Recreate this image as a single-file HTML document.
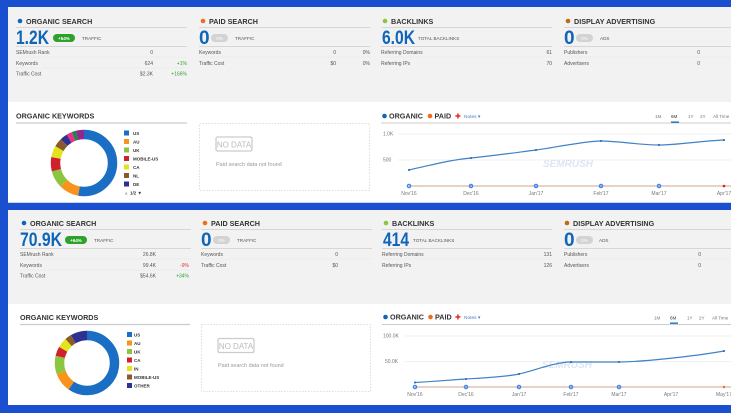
<!DOCTYPE html>
<html><head><meta charset="utf-8"><style>
html,body{margin:0;padding:0;background:#fff}
svg{display:block}
text{font-family:"Liberation Sans",sans-serif}
.h{font-size:7.2px;font-weight:bold;fill:#333}
.s{font-size:5px;fill:#555}
.t{font-size:4.6px;fill:#555}
.big{font-size:19px;font-weight:bold;fill:#0f65b8}
.g{fill:#36a02e;font-size:5px}
.r{fill:#d33;font-size:5px}
.ln{stroke:#d6d6d6;stroke-width:1}
.lt{stroke:#e6e6e6;stroke-width:.6}
.ax{font-size:5px;fill:#777}
</style></head><body>
<svg width="731" height="413" viewBox="0 0 731 413" xmlns="http://www.w3.org/2000/svg">
<rect width="731" height="413" fill="#1a4fd0"/>
<rect x="8" y="7" width="723" height="95" fill="#f2f2f2"/>
<rect x="8" y="102" width="723" height="100" fill="#fff"/>
<rect x="8" y="202" width="723" height="1" fill="#c9d4ee"/>
<rect x="8" y="210" width="723" height="94" fill="#f2f2f2"/>
<rect x="8" y="304" width="723" height="101" fill="#fff"/>

<!-- ===== PANEL 1 TOP ROW ===== -->
<g>
<circle cx="20" cy="21" r="2.3" fill="#0f65b8"/><text x="26" y="24" class="h">ORGANIC SEARCH</text>
<line x1="16" y1="27.5" x2="187" y2="27.5" class="ln"/>
<text x="16" y="44" class="big" textLength="33" lengthAdjust="spacingAndGlyphs">1.2K</text>
<rect x="53" y="34" width="22" height="8" rx="4" fill="#2ea12a"/><text x="64" y="39.8" font-size="4.5" fill="#fff" text-anchor="middle" font-weight="bold">+54%</text>
<text x="82" y="40" class="t">TRAFFIC</text>
<line x1="16" y1="46.5" x2="187" y2="46.5" class="ln"/>
<text x="16" y="54" class="s">SEMrush Rank</text><text x="153" y="54" class="s" text-anchor="end">0</text>
<line x1="16" y1="57" x2="187" y2="57" class="lt"/>
<text x="16" y="65" class="s">Keywords</text><text x="153" y="65" class="s" text-anchor="end">624</text><text x="187" y="65" class="g" text-anchor="end">+1%</text>
<line x1="16" y1="68" x2="187" y2="68" class="lt"/>
<text x="16" y="75.5" class="s">Traffic Cost</text><text x="153" y="75.5" class="s" text-anchor="end">$2.3K</text><text x="187" y="75.5" class="g" text-anchor="end">+166%</text>

<circle cx="203" cy="21" r="2.3" fill="#f26b1d"/><text x="209" y="24" class="h">PAID SEARCH</text>
<line x1="199" y1="27.5" x2="370" y2="27.5" class="ln"/>
<text x="199" y="44" class="big">0</text>
<rect x="211" y="34" width="17" height="8" rx="4" fill="#d3d3d3"/><text x="219.5" y="39.8" font-size="4.5" fill="#fff" text-anchor="middle">0%</text>
<text x="235" y="40" class="t">TRAFFIC</text>
<line x1="199" y1="46.5" x2="370" y2="46.5" class="ln"/>
<text x="199" y="54" class="s">Keywords</text><text x="336" y="54" class="s" text-anchor="end">0</text><text x="370" y="54" class="s" fill="#bbb" text-anchor="end">0%</text>
<line x1="199" y1="57" x2="370" y2="57" class="lt"/>
<text x="199" y="65" class="s">Traffic Cost</text><text x="336" y="65" class="s" text-anchor="end">$0</text><text x="370" y="65" class="s" text-anchor="end">0%</text>

<circle cx="385" cy="21" r="2.3" fill="#8cc63f"/><text x="391" y="24" class="h">BACKLINKS</text>
<line x1="381" y1="27.5" x2="552" y2="27.5" class="ln"/>
<text x="382" y="44" class="big" textLength="33" lengthAdjust="spacingAndGlyphs">6.0K</text><text x="418" y="40" class="t">TOTAL BACKLINKS</text>
<line x1="381" y1="46.5" x2="552" y2="46.5" class="ln"/>
<text x="381" y="54" class="s">Referring Domains</text><text x="552" y="54" class="s" text-anchor="end">61</text>
<line x1="381" y1="57" x2="552" y2="57" class="lt"/>
<text x="381" y="65" class="s">Referring IPs</text><text x="552" y="65" class="s" text-anchor="end">70</text>

<circle cx="568" cy="21" r="2.3" fill="#c06a12"/><text x="574" y="24" class="h">DISPLAY ADVERTISING</text>
<line x1="564" y1="27.5" x2="731" y2="27.5" class="ln"/>
<text x="564" y="44" class="big">0</text>
<rect x="576" y="34" width="17" height="8" rx="4" fill="#d3d3d3"/><text x="584.5" y="39.8" font-size="4.5" fill="#fff" text-anchor="middle">0%</text>
<text x="600" y="40" class="t">ADS</text>
<line x1="564" y1="46.5" x2="731" y2="46.5" class="ln"/>
<text x="564" y="54" class="s">Publishers</text><text x="700" y="54" class="s" fill="#bbb" text-anchor="end">0</text>
<line x1="564" y1="57" x2="731" y2="57" class="lt"/>
<text x="564" y="65" class="s">Advertisers</text><text x="700" y="65" class="s" fill="#bbb" text-anchor="end">0</text>
</g>

<!-- PANEL 1 BOTTOM ROW -->
<text x="16" y="118.5" class="h">ORGANIC KEYWORDS</text>
<line x1="16" y1="123" x2="187" y2="123" stroke="#ccc" stroke-width="1.2"/>
<g transform="rotate(-90 84 163)" fill="none" stroke-width="9.5">
<circle cx="84" cy="163" r="28.5" stroke="#1a6fc4" stroke-dasharray="94.5 200" stroke-dashoffset="0"/>
<circle cx="84" cy="163" r="28.5" stroke="#f7941d" stroke-dasharray="17.4 200" stroke-dashoffset="-94.5"/>
<circle cx="84" cy="163" r="28.5" stroke="#8cc63f" stroke-dasharray="14.9 200" stroke-dashoffset="-111.9"/>
<circle cx="84" cy="163" r="28.5" stroke="#d0202e" stroke-dasharray="12.4 200" stroke-dashoffset="-126.8"/>
<circle cx="84" cy="163" r="28.5" stroke="#e3e31b" stroke-dasharray="9.95 200" stroke-dashoffset="-139.3"/>
<circle cx="84" cy="163" r="28.5" stroke="#8b5a2b" stroke-dasharray="7.46 200" stroke-dashoffset="-149.2"/>
<circle cx="84" cy="163" r="28.5" stroke="#2e3192" stroke-dasharray="6.47 200" stroke-dashoffset="-156.7"/>
<circle cx="84" cy="163" r="28.5" stroke="#ec2d8c" stroke-dasharray="4.97 200" stroke-dashoffset="-163.1"/>
<circle cx="84" cy="163" r="28.5" stroke="#178a3e" stroke-dasharray="3.48 200" stroke-dashoffset="-168.1"/>
<circle cx="84" cy="163" r="28.5" stroke="#92278f" stroke-dasharray="7.46 200" stroke-dashoffset="-171.6"/>
</g>
<g font-size="4.5" font-weight="bold" fill="#333">
<rect x="124" y="130.5" width="5" height="5" fill="#1a6fc4"/><text x="133" y="135">US</text>
<rect x="124" y="139" width="5" height="5" fill="#f7941d"/><text x="133" y="143.5">AU</text>
<rect x="124" y="147.5" width="5" height="5" fill="#8cc63f"/><text x="133" y="152">UK</text>
<rect x="124" y="156" width="5" height="5" fill="#d0202e"/><text x="133" y="160.5">MOBILE-US</text>
<rect x="124" y="164.5" width="5" height="5" fill="#e3e31b"/><text x="133" y="169">CA</text>
<rect x="124" y="173" width="5" height="5" fill="#8b5a2b"/><text x="133" y="177.5">NL</text>
<rect x="124" y="181.5" width="5" height="5" fill="#2e3192"/><text x="133" y="186">DE</text>
<text x="124" y="194.5" fill="#aaa">▲</text><text x="130" y="194.5">1/2 ▼</text>
</g>
<rect x="199.5" y="123.5" width="170" height="67" fill="none" stroke="#ddd" stroke-dasharray="1.5 1.5"/>
<rect x="216" y="137" width="36" height="14" rx="1.5" fill="none" stroke="#ccc" stroke-width="1.3"/>
<text x="234" y="147.5" font-size="8" fill="#bbb" text-anchor="middle">NO DATA</text>
<text x="216" y="166" font-size="5.5" fill="#999">Paid search data not found</text>

<!-- chart 1 -->
<circle cx="384.5" cy="116" r="2.3" fill="#0f65b8"/><text x="389" y="118.5" class="h">ORGANIC</text>
<circle cx="430" cy="116" r="2.3" fill="#f26b1d"/><text x="434.5" y="118.5" class="h">PAID</text>
<text x="455" y="118.5" font-size="7" fill="#e02020">✚</text><text x="464" y="118" font-size="4.8" fill="#4a7cc2">Notes ▾</text>
<line x1="381" y1="123" x2="731" y2="123" stroke="#ccc" stroke-width="1"/>
<g font-size="4.6" fill="#777"><text x="655" y="118">1M</text><text x="671" y="118" fill="#333">6M</text><text x="688" y="118">1Y</text><text x="700" y="118">2Y</text><text x="713" y="118">All Time</text></g>
<rect x="671" y="121.5" width="8" height="1.3" fill="#0f65b8"/>
<line x1="398" y1="134" x2="731" y2="134" class="lt"/><line x1="398" y1="160" x2="731" y2="160" class="lt"/>
<text x="383" y="135.5" class="ax">1.0K</text><text x="383" y="161.5" class="ax">500</text>
<text x="568" y="167" font-size="10" font-style="italic" font-weight="bold" fill="#dde6f3" text-anchor="middle">SEMRUSH</text>
<line x1="409" y1="186" x2="731" y2="186" stroke="#d7b9a0" stroke-width="1.2"/>
<path d="M409,170 C440,163 450,160 471,158 S520,152 536,150 S585,141 601,141 S640,145 659,145 S700,141 724,140" fill="none" stroke="#3f82c7" stroke-width="1.2"/>
<g fill="#1e5fa8"><circle cx="409" cy="170" r="1"/><circle cx="471" cy="158" r="1"/><circle cx="536" cy="150" r="1"/><circle cx="601" cy="141" r="1"/><circle cx="659" cy="145" r="1"/><circle cx="724" cy="140" r="1"/></g>
<g fill="none" stroke-width="1.4"><circle cx="409" cy="186" r="1.6" stroke="#4285f4"/><circle cx="471" cy="186" r="1.6" stroke="#4285f4"/><circle cx="536" cy="186" r="1.6" stroke="#4285f4"/><circle cx="601" cy="186" r="1.6" stroke="#4285f4"/><circle cx="659" cy="186" r="1.6" stroke="#4285f4"/></g>
<circle cx="724" cy="186" r="1.3" fill="#e02020"/>
<g class="ax" text-anchor="middle"><text x="409" y="195">Nov'16</text><text x="471" y="195">Dec'16</text><text x="536" y="195">Jan'17</text><text x="601" y="195">Feb'17</text><text x="659" y="195">Mar'17</text><text x="724" y="195">Apr'17</text></g>

<!-- ===== PANEL 2 TOP ROW ===== -->
<g transform="translate(4,2)">
<circle cx="20" cy="221" r="2.3" fill="#0f65b8"/><text x="26" y="224" class="h">ORGANIC SEARCH</text>
<line x1="16" y1="227.5" x2="187" y2="227.5" class="ln"/>
<text x="16" y="244" class="big" textLength="42" lengthAdjust="spacingAndGlyphs">70.9K</text>
<rect x="61" y="234" width="22" height="8" rx="4" fill="#2ea12a"/><text x="72" y="239.8" font-size="4.5" fill="#fff" text-anchor="middle" font-weight="bold">+64%</text>
<text x="90" y="240" class="t">TRAFFIC</text>
<line x1="16" y1="246.5" x2="187" y2="246.5" class="ln"/>
<text x="16" y="254" class="s">SEMrush Rank</text><text x="152" y="254" class="s" text-anchor="end">26.8K</text>
<line x1="16" y1="257" x2="187" y2="257" class="lt"/>
<text x="16" y="265" class="s">Keywords</text><text x="152" y="265" class="s" text-anchor="end">99.4K</text><text x="185" y="265" class="r" text-anchor="end">-9%</text>
<line x1="16" y1="268" x2="187" y2="268" class="lt"/>
<text x="16" y="275.5" class="s">Traffic Cost</text><text x="152" y="275.5" class="s" text-anchor="end">$54.6K</text><text x="185" y="275.5" class="g" text-anchor="end">+34%</text>

<circle cx="201" cy="221" r="2.3" fill="#f26b1d"/><text x="207" y="224" class="h">PAID SEARCH</text>
<line x1="197" y1="227.5" x2="368" y2="227.5" class="ln"/>
<text x="197" y="244" class="big">0</text>
<rect x="209" y="234" width="17" height="8" rx="4" fill="#d3d3d3"/><text x="217.5" y="239.8" font-size="4.5" fill="#fff" text-anchor="middle">0%</text>
<text x="233" y="240" class="t">TRAFFIC</text>
<line x1="197" y1="246.5" x2="368" y2="246.5" class="ln"/>
<text x="197" y="254" class="s">Keywords</text><text x="334" y="254" class="s" text-anchor="end">0</text>
<line x1="197" y1="257" x2="368" y2="257" class="lt"/>
<text x="197" y="265" class="s">Traffic Cost</text><text x="334" y="265" class="s" text-anchor="end">$0</text>

<circle cx="382" cy="221" r="2.3" fill="#8cc63f"/><text x="388" y="224" class="h">BACKLINKS</text>
<line x1="378" y1="227.5" x2="548" y2="227.5" class="ln"/>
<text x="379" y="244" class="big" textLength="26" lengthAdjust="spacingAndGlyphs">414</text><text x="409" y="240" class="t">TOTAL BACKLINKS</text>
<line x1="378" y1="246.5" x2="548" y2="246.5" class="ln"/>
<text x="378" y="254" class="s">Referring Domains</text><text x="548" y="254" class="s" text-anchor="end">131</text>
<line x1="378" y1="257" x2="548" y2="257" class="lt"/>
<text x="378" y="265" class="s">Referring IPs</text><text x="548" y="265" class="s" text-anchor="end">126</text>

<circle cx="563" cy="221" r="2.3" fill="#c06a12"/><text x="569" y="224" class="h">DISPLAY ADVERTISING</text>
<line x1="560" y1="227.5" x2="731" y2="227.5" class="ln"/>
<text x="560" y="244" class="big">0</text>
<rect x="572" y="234" width="17" height="8" rx="4" fill="#d3d3d3"/><text x="580.5" y="239.8" font-size="4.5" fill="#fff" text-anchor="middle">0%</text>
<text x="595" y="240" class="t">ADS</text>
<line x1="560" y1="246.5" x2="731" y2="246.5" class="ln"/>
<text x="560" y="254" class="s">Publishers</text><text x="697" y="254" class="s" fill="#bbb" text-anchor="end">0</text>
<line x1="560" y1="257" x2="731" y2="257" class="lt"/>
<text x="560" y="265" class="s">Advertisers</text><text x="697" y="265" class="s" fill="#bbb" text-anchor="end">0</text>
</g>

<!-- PANEL 2 BOTTOM ROW -->
<text x="20" y="320" class="h">ORGANIC KEYWORDS</text>
<line x1="20" y1="324.5" x2="190" y2="324.5" stroke="#ccc" stroke-width="1.2"/>
<g transform="rotate(-90 87 363)" fill="none" stroke-width="9.5">
<circle cx="87" cy="363" r="27.5" stroke="#1a6fc4" stroke-dasharray="103 200" stroke-dashoffset="0"/>
<circle cx="87" cy="363" r="27.5" stroke="#f7941d" stroke-dasharray="16.8 200" stroke-dashoffset="-103"/>
<circle cx="87" cy="363" r="27.5" stroke="#8cc63f" stroke-dasharray="15.8 200" stroke-dashoffset="-119.8"/>
<circle cx="87" cy="363" r="27.5" stroke="#d0202e" stroke-dasharray="8.2 200" stroke-dashoffset="-135.6"/>
<circle cx="87" cy="363" r="27.5" stroke="#e3e31b" stroke-dasharray="8.6 200" stroke-dashoffset="-143.8"/>
<circle cx="87" cy="363" r="27.5" stroke="#8b5a2b" stroke-dasharray="5.8 200" stroke-dashoffset="-152.4"/>
<circle cx="87" cy="363" r="27.5" stroke="#2e3192" stroke-dasharray="14.6 200" stroke-dashoffset="-158.2"/>
</g>
<g font-size="4.5" font-weight="bold" fill="#333">
<rect x="127" y="332" width="5" height="5" fill="#1a6fc4"/><text x="134" y="336.5">US</text>
<rect x="127" y="340.5" width="5" height="5" fill="#f7941d"/><text x="134" y="345">AU</text>
<rect x="127" y="349" width="5" height="5" fill="#8cc63f"/><text x="134" y="353.5">UK</text>
<rect x="127" y="357.5" width="5" height="5" fill="#d0202e"/><text x="134" y="362">CA</text>
<rect x="127" y="366" width="5" height="5" fill="#e3e31b"/><text x="134" y="370.5">IN</text>
<rect x="127" y="374.5" width="5" height="5" fill="#8b5a2b"/><text x="134" y="379">MOBILE-US</text>
<rect x="127" y="383" width="5" height="5" fill="#2e3192"/><text x="134" y="387.5">OTHER</text>
</g>
<rect x="201.5" y="324.5" width="169" height="67" fill="none" stroke="#ddd" stroke-dasharray="1.5 1.5"/>
<rect x="218" y="338.5" width="36" height="14" rx="1.5" fill="none" stroke="#ccc" stroke-width="1.3"/>
<text x="236" y="349" font-size="8" fill="#bbb" text-anchor="middle">NO DATA</text>
<text x="218" y="367" font-size="5.5" fill="#999">Paid search data not found</text>

<!-- chart 2 -->
<circle cx="385.5" cy="317" r="2.3" fill="#0f65b8"/><text x="390" y="319.5" class="h">ORGANIC</text>
<circle cx="430.5" cy="317" r="2.3" fill="#f26b1d"/><text x="435" y="319.5" class="h">PAID</text>
<text x="455" y="319.5" font-size="7" fill="#e02020">✚</text><text x="464" y="319" font-size="4.8" fill="#4a7cc2">Notes ▾</text>
<line x1="382" y1="324.5" x2="731" y2="324.5" stroke="#ccc" stroke-width="1"/>
<g font-size="4.6" fill="#777"><text x="654" y="319.5">1M</text><text x="670" y="319.5" fill="#333">6M</text><text x="687" y="319.5">1Y</text><text x="699" y="319.5">2Y</text><text x="712" y="319.5">All Time</text></g>
<rect x="670" y="322.5" width="8" height="1.3" fill="#0f65b8"/>
<line x1="405" y1="336" x2="731" y2="336" class="lt"/><line x1="405" y1="361.5" x2="731" y2="361.5" class="lt"/>
<text x="383" y="337.5" class="ax">100.0K</text><text x="385" y="363" class="ax">50.0K</text>
<text x="567" y="368" font-size="10" font-style="italic" font-weight="bold" fill="#dde6f3" text-anchor="middle">SEMRUSH</text>
<line x1="415" y1="387" x2="731" y2="387" stroke="#d7b9a0" stroke-width="1.2"/>
<path d="M415,382.5 C440,381 450,380 466,379 S505,377 519,374 S555,362 571,362 S600,362 619,362 S690,357 724,351" fill="none" stroke="#3f82c7" stroke-width="1.2"/>
<g fill="#1e5fa8"><circle cx="415" cy="382.5" r="1"/><circle cx="466" cy="379" r="1"/><circle cx="519" cy="374" r="1"/><circle cx="571" cy="362" r="1"/><circle cx="619" cy="362" r="1"/><circle cx="724" cy="351" r="1"/></g>
<g fill="none" stroke-width="1.4" stroke="#4285f4"><circle cx="415" cy="387" r="1.6"/><circle cx="466" cy="387" r="1.6"/><circle cx="519" cy="387" r="1.6"/><circle cx="571" cy="387" r="1.6"/><circle cx="619" cy="387" r="1.6"/></g>
<circle cx="724" cy="387" r="1.2" fill="#f26b1d"/>
<g class="ax" text-anchor="middle"><text x="415" y="396">Nov'16</text><text x="466" y="396">Dec'16</text><text x="519" y="396">Jan'17</text><text x="571" y="396">Feb'17</text><text x="619" y="396">Mar'17</text><text x="671" y="396">Apr'17</text><text x="724" y="396">May'17</text></g>
</svg>
</body></html>
